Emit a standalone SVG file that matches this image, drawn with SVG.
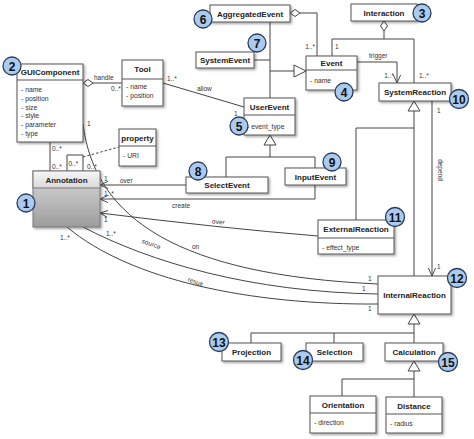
<svg xmlns="http://www.w3.org/2000/svg" width="474" height="439" viewBox="0 0 474 439">
<defs>
<filter id="sh" x="-10%" y="-10%" width="130%" height="140%"><feDropShadow dx="1.5" dy="1.5" stdDeviation="0.8" flood-color="#000" flood-opacity="0.35"/></filter>
<linearGradient id="ah" x1="0" y1="0" x2="0" y2="1"><stop offset="0" stop-color="#f7f7f7"/><stop offset="1" stop-color="#d9d9d9"/></linearGradient>
<linearGradient id="ab" x1="0" y1="0" x2="0" y2="1"><stop offset="0" stop-color="#dcdcdc"/><stop offset="1" stop-color="#9c9c9c"/></linearGradient>
<marker id="arr" viewBox="0 0 10 10" refX="10" refY="5" markerWidth="8" markerHeight="8" orient="auto" markerUnits="userSpaceOnUse"><path d="M0,0.5 L10,5 L0,9.5" fill="none" stroke="#444" stroke-width="1.2"/></marker>
</defs>
<style>
.box{fill:#fff;stroke:#555;stroke-width:1;filter:url(#sh)}
.sep{stroke:#555;stroke-width:1;fill:none}
.t{font-family:"Liberation Sans",Arial,sans-serif;font-weight:bold;font-size:8px;fill:#222;text-anchor:middle}
.a{font-family:"Liberation Sans",Arial,sans-serif;font-size:6.8px;fill:#333}
.l{font-family:"Liberation Sans",Arial,sans-serif;font-size:6.5px;fill:#333}
.c{fill:none;stroke:#444;stroke-width:1}
.tri{fill:#fff;stroke:#444;stroke-width:1}
.bc{fill:#a9cbf0;stroke:#2b3b58;stroke-width:1.3}
.bt{font-family:"Liberation Sans",Arial,sans-serif;font-weight:bold;font-size:12px;fill:#111;text-anchor:middle}
</style>
<rect width="474" height="439" fill="#fff"/>

<g id="connectors">
<!-- handle -->
<polygon class="tri" points="83,83 88,79.5 93,83 88,86.5"/>
<path class="c" d="M93,83 H122"/>
<text class="l" x="94" y="80">handle</text>
<text class="l" x="111" y="91">0..*</text>
<!-- allow -->
<path class="c" d="M163,83 L244,107"/>
<text class="l" x="167" y="81">1..*</text>
<text class="l" x="197" y="91">allow</text>
<text class="l" x="234" y="116">1</text>
<!-- GUI to Annotation -->
<path class="c" d="M50,142 V171"/>
<text class="l" x="52" y="151">0..*</text>
<text class="l" x="52" y="169">0..*</text>
<!-- self loop -->
<path class="c" d="M67,171 V155 H83 V171"/>
<text class="l" x="68.5" y="166">0..*</text>
<text class="l" x="87" y="169">0..*</text>
<path class="c" d="M83,157 L119,147" stroke-dasharray="2.5,2"/>
<!-- on -->
<path class="c" d="M83,124 C95,220 180,275 378,284"/>
<text class="l" x="87" y="126">1</text>
<text class="l" x="192" y="249">on</text>
<text class="l" x="368" y="281">1</text>
<!-- source -->
<path class="c" d="M83,227 C150,262 250,292 378,294"/>
<text class="l" x="106" y="236">1..*</text>
<text class="l" x="140" y="246" transform="rotate(20 150 248)">source</text>
<text class="l" x="362" y="291">1</text>
<!-- result -->
<path class="c" d="M67,227 C130,280 250,305 378,304"/>
<text class="l" x="60" y="240">1..*</text>
<text class="l" x="187" y="284" transform="rotate(22 195 283)">result</text>
<text class="l" x="368" y="311">1</text>
<!-- over external -->
<path class="c" d="M318,236 Q220,228 100,213" marker-end="url(#arr)"/>
<text class="l" x="104" y="222">1</text>
<text class="l" x="212" y="224" transform="rotate(6 219 222)">over</text>
<!-- create -->
<path class="c" d="M315,185 V199 H100" marker-end="url(#arr)"/>
<text class="l" x="104" y="196">1..*</text>
<text class="l" x="172" y="208">create</text>
<!-- over select -->
<path class="c" d="M186,185 H100" marker-end="url(#arr)"/>
<text class="l" x="104" y="181">1</text>
<text class="l" x="120" y="183">over</text>
<!-- UserEvent generalization -->
<path class="c" d="M270,145 V157 M226,177 V157 H315 V168"/>
<polygon class="tri" points="270,135 264,145 276,145"/>
<!-- Event generalization -->
<path class="c" d="M270,22 V98 M254,60 H270 M270,71 H294"/>
<polygon class="tri" points="306,71 294,65 294,77"/>
<!-- AggregatedEvent aggregation -->
<polygon class="tri" points="290,13 295,9.5 300,13 295,16.5"/>
<path class="c" d="M300,13 H317 V56"/>
<text class="l" x="315" y="49" text-anchor="end">1..*</text>
<!-- Interaction -->
<polygon class="tri" points="384,21 387.5,26 384,31 380.5,26"/>
<path class="c" d="M384,31 V39 M332,56 V39 H414 V83"/>
<text class="l" x="335" y="49">1</text>
<text class="l" x="419" y="78">1..*</text>
<!-- trigger -->
<path class="c" d="M357,62 H397 V83" marker-end="url(#arr)"/>
<text class="l" x="369" y="58">trigger</text>
<text class="l" x="394" y="78" text-anchor="end">1..*</text>
<!-- SystemReaction generalization -->
<path class="c" d="M414,111 V276 M414,128 H356 V220"/>
<polygon class="tri" points="414,101 408,111 420,111"/>
<!-- depend -->
<path class="c" d="M432,101 V276" marker-end="url(#arr)"/>
<text class="l" x="437" y="113">1</text>
<text class="l" x="437" y="269">1</text>
<text class="l" x="437" y="170" text-anchor="middle" transform="rotate(90 437 170)" dy="-1">depend</text>
<!-- InternalReaction generalization -->
<path class="c" d="M414,324 V343 M251,343 V333 H414 M334,333 V343"/>
<polygon class="tri" points="414,314 408,324 420,324"/>
<!-- Calculation generalization -->
<path class="c" d="M414,371 V397 M342,396 V379 H414"/>
<polygon class="tri" points="414,361 408,371 420,371"/>
</g>

<g id="GUIComponent">
<rect class="box" x="17" y="64" width="66" height="78"/>
<path class="sep" d="M17,80 H83"/>
<text class="t" x="50" y="75">GUIComponent</text>
<text class="a" x="21" y="91.5">- name</text>
<text class="a" x="21" y="100.5">- position</text>
<text class="a" x="21" y="109.5">- size</text>
<text class="a" x="21" y="118">- style</text>
<text class="a" x="21" y="127">- parameter</text>
<text class="a" x="21" y="136">- type</text>
</g>
<g id="Tool">
<rect class="box" x="122" y="60" width="41" height="46"/>
<path class="sep" d="M122,79 H163"/>
<text class="t" x="142.5" y="72">Tool</text>
<text class="a" x="126" y="89">- name</text>
<text class="a" x="126" y="97.5">- position</text>
</g>
<g id="property">
<rect class="box" x="119" y="129" width="37" height="37"/>
<path class="sep" d="M119,146 H156"/>
<text class="t" x="137.5" y="141">property</text>
<text class="a" x="123" y="157.5">- URI</text>
</g>
<g id="Annotation">
<rect x="33" y="171" width="67" height="56" fill="url(#ab)" stroke="#777" filter="url(#sh)"/>
<rect x="33" y="171" width="67" height="17" fill="url(#ah)" stroke="#777"/>
<text class="t" x="66.5" y="182.5">Annotation</text>
</g>
<g id="AggregatedEvent">
<rect class="box" x="210" y="5" width="80" height="17"/>
<text class="t" x="250" y="16.5">AggregatedEvent</text>
</g>
<g id="SystemEvent">
<rect class="box" x="196" y="52" width="58" height="16"/>
<text class="t" x="225" y="63">SystemEvent</text>
</g>
<g id="Event">
<rect class="box" x="306" y="56" width="51" height="34"/>
<path class="sep" d="M306,70 H357"/>
<text class="t" x="331.5" y="66">Event</text>
<text class="a" x="310" y="82.5">- name</text>
</g>
<g id="UserEvent">
<rect class="box" x="244" y="98" width="51" height="37"/>
<path class="sep" d="M244,115 H295"/>
<text class="t" x="269.5" y="109.5">UserEvent</text>
<text class="a" x="247" y="128.5">- event_type</text>
</g>
<g id="Interaction">
<rect class="box" x="351" y="4" width="66" height="17"/>
<text class="t" x="384" y="15.5">Interaction</text>
</g>
<g id="SystemReaction">
<rect class="box" x="379" y="83" width="72" height="18"/>
<text class="t" x="415" y="95">SystemReaction</text>
</g>
<g id="SelectEvent">
<rect class="box" x="186" y="177" width="82" height="16"/>
<text class="t" x="227" y="188">SelectEvent</text>
</g>
<g id="InputEvent">
<rect class="box" x="285" y="168" width="61" height="17"/>
<text class="t" x="315.5" y="179.5">InputEvent</text>
</g>
<g id="ExternalReaction">
<rect class="box" x="318" y="220" width="76" height="34"/>
<path class="sep" d="M318,238 H394"/>
<text class="t" x="356" y="232">ExternalReaction</text>
<text class="a" x="322" y="249.5">- effect_type</text>
</g>
<g id="InternalReaction">
<rect class="box" x="378" y="276" width="73" height="38"/>
<text class="t" x="414.5" y="298">InternalReaction</text>
</g>
<g id="Projection">
<rect class="box" x="222" y="343" width="59" height="18"/>
<text class="t" x="251.5" y="355">Projection</text>
</g>
<g id="Selection">
<rect class="box" x="306" y="343" width="57" height="18"/>
<text class="t" x="334.5" y="355">Selection</text>
</g>
<g id="Calculation">
<rect class="box" x="385" y="343" width="58" height="18"/>
<text class="t" x="414" y="355">Calculation</text>
</g>
<g id="Orientation">
<rect class="box" x="310" y="396" width="66" height="37"/>
<path class="sep" d="M310,413 H376"/>
<text class="t" x="343" y="408">Orientation</text>
<text class="a" x="314" y="424.5">- direction</text>
</g>
<g id="Distance">
<rect class="box" x="386" y="397" width="56" height="36"/>
<path class="sep" d="M386,414 H442"/>
<text class="t" x="414" y="409">Distance</text>
<text class="a" x="390" y="426">- radius</text>
</g>

<g id="badges">
<g id="b1"><circle class="bc" cx="26" cy="203" r="9"/><text class="bt" x="26" y="207.5">1</text></g>
<g id="b2"><circle class="bc" cx="12" cy="66" r="9"/><text class="bt" x="12" y="70.5">2</text></g>
<g id="b3"><circle class="bc" cx="422" cy="13" r="9"/><text class="bt" x="422" y="17.5">3</text></g>
<g id="b4"><circle class="bc" cx="344" cy="92" r="9"/><text class="bt" x="344" y="96.5">4</text></g>
<g id="b5"><circle class="bc" cx="239" cy="126" r="9"/><text class="bt" x="239" y="130.5">5</text></g>
<g id="b6"><circle class="bc" cx="203" cy="19" r="9"/><text class="bt" x="203" y="23.5">6</text></g>
<g id="b7"><circle class="bc" cx="257" cy="43" r="9"/><text class="bt" x="257" y="47.5">7</text></g>
<g id="b8"><circle class="bc" cx="198" cy="171" r="9"/><text class="bt" x="198" y="175.5">8</text></g>
<g id="b9"><circle class="bc" cx="332" cy="162" r="9"/><text class="bt" x="332" y="166.5">9</text></g>
<g id="b10"><circle class="bc" cx="459" cy="99" r="9.5"/><text class="bt" x="459" y="103.5">10</text></g>
<g id="b11"><circle class="bc" cx="395" cy="217" r="9.5"/><text class="bt" x="395" y="221.5">11</text></g>
<g id="b12"><circle class="bc" cx="457" cy="278" r="9.5"/><text class="bt" x="457" y="282.5">12</text></g>
<g id="b13"><circle class="bc" cx="219" cy="342" r="9.5"/><text class="bt" x="219" y="346.5">13</text></g>
<g id="b14"><circle class="bc" cx="303" cy="360" r="9.5"/><text class="bt" x="303" y="364.5">14</text></g>
<g id="b15"><circle class="bc" cx="448" cy="362" r="9.5"/><text class="bt" x="448" y="366.5">15</text></g>
</g>
</svg>
